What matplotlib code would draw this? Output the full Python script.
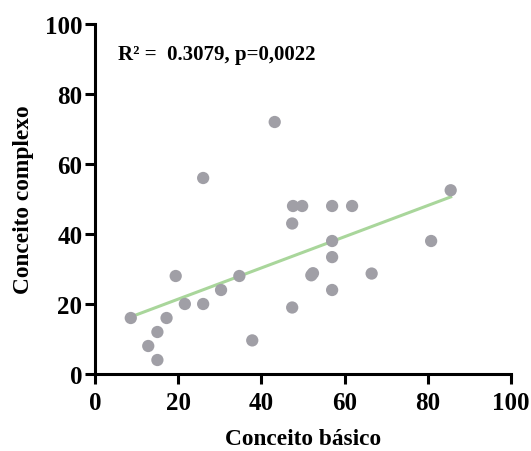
import matplotlib.pyplot as plt
import numpy as np

plt.rcParams['font.family'] = ['Liberation Serif', 'DejaVu Serif']
plt.rcParams['font.weight'] = 'bold'

# Scores per subject
conceito_basico = [8.6, 12.8, 15.0, 15.0, 17.2, 19.4, 21.6, 26.0, 26.0, 30.3,
                   34.7, 37.8, 43.2, 47.6, 49.8, 47.4, 47.4, 52.0, 52.4, 57.0,
                   61.8, 57.0, 57.0, 57.0, 66.5, 80.8, 85.5]
conceito_complexo = [16.0, 8.0, 12.0, 4.0, 16.0, 28.0, 20.0, 20.0, 56.0, 24.0,
                     28.0, 9.6, 72.0, 48.0, 48.0, 43.0, 19.0, 28.2, 28.8, 48.0,
                     48.0, 38.0, 33.4, 24.0, 28.7, 38.0, 52.5]

x = np.array(conceito_basico)
y = np.array(conceito_complexo)

fig = plt.figure(figsize=(5.31, 4.52), dpi=100)
ax = fig.add_axes([95 / 531, 1 - 375 / 452, 416 / 531, 350 / 452])

# linear regression
slope, intercept = np.polyfit(x, y, 1)
xs = np.array([x.min(), x.max()])
ax.plot(xs, slope * xs + intercept, color='#a9d69b', lw=2.2, zorder=2)

ax.scatter(x, y, s=78, color='#a09fa6', edgecolors='none', zorder=3, clip_on=False)

ax.set_xlim(0, 100)
ax.set_ylim(0, 100)
ax.set_xticks([0, 20, 40, 60, 80, 100])
ax.set_yticks([0, 20, 40, 60, 80, 100])

for s in ['top', 'right']:
    ax.spines[s].set_visible(False)
for s in ['left', 'bottom']:
    ax.spines[s].set_linewidth(2.2)
ax.tick_params(direction='out', length=7, width=2.2, labelsize=18)
ax.tick_params(axis='x', pad=5)
ax.tick_params(axis='y', pad=2)

ax.set_xlabel('Conceito básico', fontsize=16.8, fontweight='bold', labelpad=10)
ax.set_ylabel('Conceito complexo', fontsize=16.8, fontweight='bold', labelpad=8)

ax.text(5.5, 91.5, 'R² =  0.3079, p=0,0022', fontsize=15, fontweight='bold',
        va='center', ha='left')

fig.savefig('out.png', dpi=100)
